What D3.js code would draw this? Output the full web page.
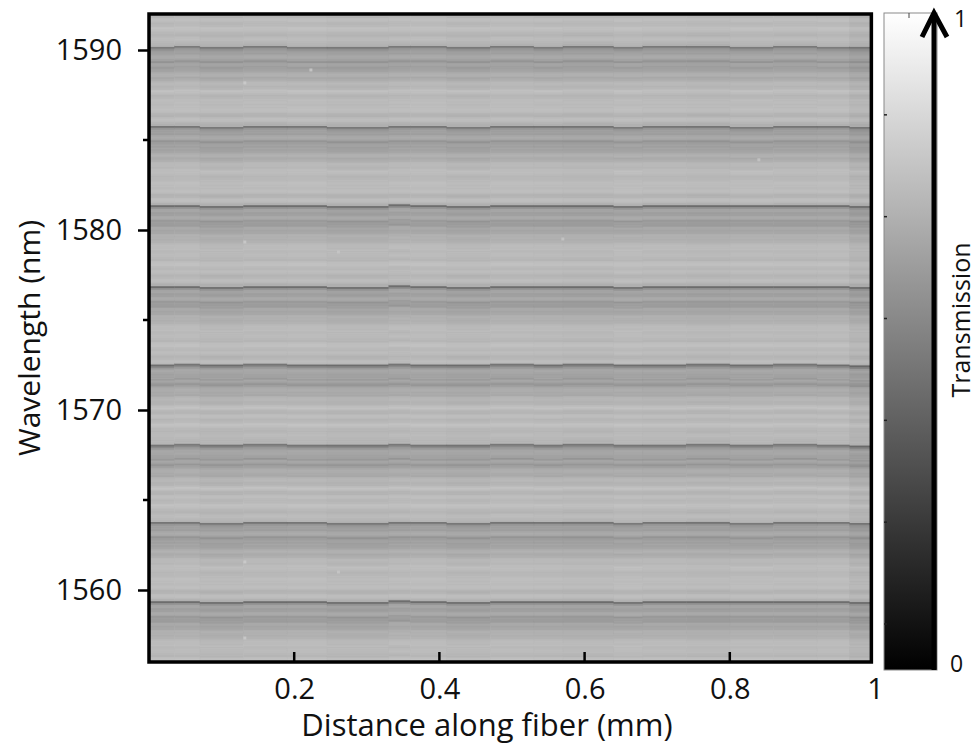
<!DOCTYPE html>
<html>
<head>
<meta charset="utf-8">
<script src="https://cdn.jsdelivr.net/npm/d3@7"></script>
<style>
  body { margin: 0; background: #fff; }
  svg { display: block; }
</style>
</head>
<body>
<div id="chart"></div>
<script>
// values

// wavelengths (nm) of the sharp dark notches, top to bottom
const notchCenters = [1590.22, 1585.78, 1581.39, 1576.89, 1572.56, 1568.11, 1563.78, 1559.39];

// transmission below each notch, sampled every 0.1 nm going to shorter wavelength
const profileStep = 0.1;
const periodProfile = [
  0.43, 0.54, 0.61, 0.63, 0.62, 0.63, 0.64, 0.63, 0.58, 0.62,
  0.61, 0.59, 0.63, 0.64, 0.65, 0.66, 0.67, 0.66, 0.68, 0.69,
  0.70, 0.70, 0.71, 0.72, 0.74, 0.72, 0.71, 0.71, 0.72, 0.72,
  0.71, 0.72, 0.73, 0.74, 0.73, 0.72, 0.72, 0.71, 0.70, 0.71,
  0.72, 0.72, 0.71, 0.69
];

// distance segments along the fiber (mm), with the small notch shift (nm) and brightness offset of each
const segmentEdges = [0, 0.035, 0.07, 0.13, 0.19, 0.245, 0.33, 0.36, 0.41, 0.47, 0.53, 0.57, 0.64, 0.68, 0.74, 0.80, 0.86, 0.92, 0.965, 0.995];
const segmentShift = [0.00, 0.02, -0.03, 0.03, 0.00, -0.02, 0.04, 0.01, -0.03, 0.02, 0.00, 0.03, -0.02, 0.01, 0.03, -0.01, 0.02, 0.00, -0.04];
const segmentGain  = [0.00, 0.004, -0.004, 0.00, 0.004, -0.003, 0.00, 0.004, -0.004, 0.002, 0.00, -0.003, 0.004, 0.00, -0.004, 0.002, 0.00, 0.004, -0.02];

// small bright specks
const spotDistance   = [0.132, 0.132, 0.132, 0.132, 0.223, 0.261, 0.261, 0.57, 0.84];
const spotWavelength = [1588.17, 1579.33, 1561.56, 1557.33, 1588.89, 1578.78, 1561.00, 1579.5, 1583.9];
const spotValue      = [0.79, 0.78, 0.79, 0.78, 0.77, 0.77, 0.77, 0.76, 0.76];

const wavelengthTicks = [1560, 1570, 1580, 1590];
const wavelengthMinorTicks = [1565, 1575, 1585];
const distanceTicks = [0.2, 0.4, 0.6, 0.8, 1];
const colorbarTicks = [0.845, 0.69, 0.535, 0.38, 0.225, 0.07];

const width = 977;
const height = 746;
const font = "'Open Sans', 'DejaVu Sans', sans-serif";

const x = d3.scaleLinear().domain([0, 1]).range([149, 875]);
const y = d3.scaleLinear().domain([1556, 1592]).range([662, 14]);
const gray = d3.scaleLinear().domain([0, 1]).range(["#000000", "#ffffff"]).clamp(true);

const plotLeft = x(0), plotRight = x(0.995), plotTop = y(1592), plotBottom = y(1556);
const period = (notchCenters[0] - notchCenters[notchCenters.length - 1]) / (notchCenters.length - 1);

function transmission(seg, lam) {
  const shift = segmentShift[seg];
  let above = null;
  for (const c of notchCenters) {
    const cc = c + shift;
    if (cc >= lam && (above === null || cc < above)) above = cc;
  }
  if (above === null) above = notchCenters[0] + shift + period;
  const i = Math.min(Math.floor((above - lam) / profileStep), periodProfile.length - 1);
  return periodProfile[i] + segmentGain[seg];
}

// build the cells
const rowStep = 0.05;
const rows = d3.range(1556, 1592, rowStep);
const cells = [];
for (let s = 0; s < segmentEdges.length - 1; s++) {
  for (const lam of rows) {
    cells.push({ d0: segmentEdges[s], d1: segmentEdges[s + 1], lam: lam, v: transmission(s, lam + rowStep / 2) });
  }
}

const svg = d3.select("#chart").append("svg")
  .attr("width", width)
  .attr("height", height)
  .style("font-family", font);

svg.append("defs").append("clipPath").attr("id", "plotclip")
  .append("rect")
    .attr("x", plotLeft).attr("y", plotTop)
    .attr("width", plotRight - plotLeft).attr("height", plotBottom - plotTop);

const map = svg.append("g").attr("clip-path", "url(#plotclip)");

map.selectAll("rect.cell")
  .data(cells)
  .join("rect")
    .attr("class", "cell")
    .attr("x", d => x(d.d0))
    .attr("width", d => x(d.d1) - x(d.d0) + 0.4)
    .attr("y", d => y(d.lam + rowStep))
    .attr("height", d => y(d.lam) - y(d.lam + rowStep) + 0.4)
    .attr("fill", d => gray(d.v));

map.selectAll("rect.spot")
  .data(d3.range(spotDistance.length))
  .join("rect")
    .attr("class", "spot")
    .attr("x", i => x(spotDistance[i]) - 1.5)
    .attr("y", i => y(spotWavelength[i]) - 1.5)
    .attr("width", 3)
    .attr("height", 3)
    .attr("fill", i => gray(spotValue[i]));

// y axis, ticks outside
const yAxis = svg.append("g").attr("transform", `translate(${plotLeft},0)`)
  .call(d3.axisLeft(y).tickValues(wavelengthTicks).tickSize(11).tickPadding(16).tickFormat(d3.format("d")));
yAxis.select(".domain").remove();
yAxis.selectAll(".tick line").attr("stroke", "#000").attr("stroke-width", 2.5);
yAxis.selectAll(".tick text").attr("font-size", 29).attr("font-family", font).attr("fill", "#111");
svg.append("g").selectAll("line")
  .data(wavelengthMinorTicks)
  .join("line")
    .attr("x1", plotLeft - 6).attr("x2", plotLeft)
    .attr("y1", d => y(d)).attr("y2", d => y(d))
    .attr("stroke", "#000").attr("stroke-width", 2.5);

// x axis, ticks inside
const xAxis = svg.append("g").attr("transform", `translate(0,${plotBottom})`)
  .call(d3.axisBottom(x).tickValues(distanceTicks).tickSize(0).tickPadding(16).tickFormat(d3.format("~g")));
xAxis.select(".domain").remove();
xAxis.selectAll(".tick text").attr("font-size", 29).attr("font-family", font).attr("fill", "#111");
svg.append("g").selectAll("line")
  .data(distanceTicks.filter(d => x(d) < plotRight - 4))
  .join("line")
    .attr("x1", d => x(d)).attr("x2", d => x(d))
    .attr("y1", plotBottom).attr("y2", plotBottom - 10)
    .attr("stroke", "#000").attr("stroke-width", 2.5);

// frame
svg.append("rect")
  .attr("x", plotLeft).attr("y", plotTop)
  .attr("width", plotRight - plotLeft).attr("height", plotBottom - plotTop)
  .attr("fill", "none").attr("stroke", "#000").attr("stroke-width", 3.5);

svg.append("text")
  .attr("x", 487).attr("y", 736)
  .attr("text-anchor", "middle")
  .attr("font-size", 31)
  .attr("fill", "#111")
  .text("Distance along fiber (mm)");

svg.append("text")
  .attr("transform", `translate(40,${(plotTop + plotBottom) / 2}) rotate(-90)`)
  .attr("text-anchor", "middle")
  .attr("font-size", 30)
  .attr("fill", "#111")
  .text("Wavelength (nm)");

// colour bar
const cb = { left: 884, right: 937 };
const cy = d3.scaleLinear().domain([0, 1]).range([670, 13]);
const grad = svg.select("defs").append("linearGradient")
  .attr("id", "cbgrad").attr("x1", 0).attr("x2", 0).attr("y1", 1).attr("y2", 0);
grad.selectAll("stop")
  .data(d3.range(0, 1.0001, 0.1))
  .join("stop")
    .attr("offset", d => d)
    .attr("stop-color", d => gray(d));

svg.append("rect")
  .attr("x", cb.left).attr("y", cy(1))
  .attr("width", cb.right - cb.left).attr("height", cy(0) - cy(1))
  .attr("fill", "url(#cbgrad)")
  .attr("stroke", "#8a8a8a").attr("stroke-width", 1);

svg.append("g").selectAll("line")
  .data(colorbarTicks)
  .join("line")
    .attr("x1", cb.left).attr("x2", cb.left + 3)
    .attr("y1", d => cy(d)).attr("y2", d => cy(d))
    .attr("stroke", "#222").attr("stroke-width", 1.5);
svg.append("line")
  .attr("x1", 909).attr("x2", 909).attr("y1", cy(1)).attr("y2", cy(1) + 5)
  .attr("stroke", "#444").attr("stroke-width", 1);

// arrow along the bar
svg.append("line")
  .attr("x1", 934).attr("x2", 934).attr("y1", cy(0)).attr("y2", cy(1) + 2)
  .attr("stroke", "#000").attr("stroke-width", 5);
svg.append("path")
  .attr("d", `M922,${cy(1) + 24} L934,${cy(1)} L947,${cy(1) + 24}`)
  .attr("fill", "none").attr("stroke", "#000").attr("stroke-width", 5)
  .attr("stroke-linejoin", "miter");

svg.append("text")
  .attr("x", 954).attr("y", 27)
  .attr("font-size", 23).attr("fill", "#111")
  .text("1");
svg.append("text")
  .attr("x", 950).attr("y", 672)
  .attr("font-size", 23).attr("fill", "#111")
  .text("0");

svg.append("text")
  .attr("transform", `translate(970,320) rotate(-90)`)
  .attr("text-anchor", "middle")
  .attr("font-size", 25)
  .attr("fill", "#111")
  .text("Transmission");
</script>
</body>
</html>
